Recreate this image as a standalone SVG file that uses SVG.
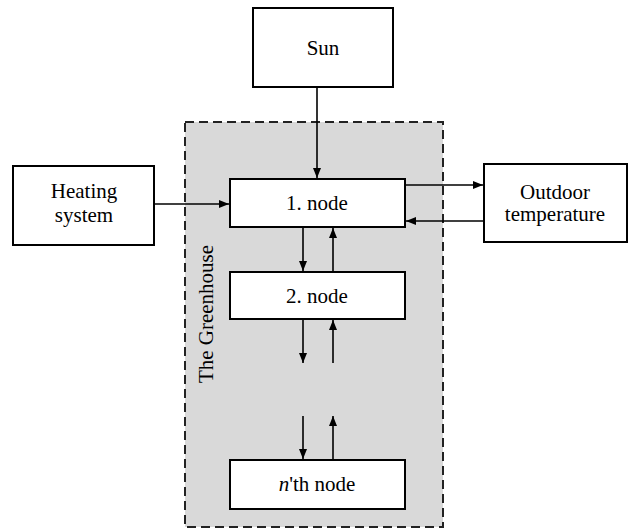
<svg xmlns="http://www.w3.org/2000/svg" width="633" height="531" viewBox="0 0 633 531">
<defs>
<style>
.box{fill:#fff;stroke:#000;stroke-width:2}
.t{font-family:"Liberation Serif","Times New Roman",serif;font-size:21px;fill:#000;text-anchor:middle}
.c{stroke:#000;stroke-width:1.6;fill:none;marker-end:url(#ah)}
</style>
<marker id="ah" viewBox="0 0 10 8" refX="10" refY="4" markerWidth="10" markerHeight="8" markerUnits="userSpaceOnUse" orient="auto">
<path d="M0,0 L10,4 L0,8 Z" fill="#000"/>
</marker>
</defs>
<rect width="633" height="531" fill="#fff"/>
<g id="greenhouse">
<rect x="185" y="122" width="258" height="405" fill="#d9d9d9" stroke="#222" stroke-width="2" stroke-dasharray="9,5"/>
<text class="t" transform="translate(213,314) rotate(-90)">The Greenhouse</text>
</g>
<g id="sun"><rect class="box" x="253" y="8" width="140" height="79"/><text class="t" x="323" y="55">Sun</text></g>
<g id="heating"><rect class="box" x="13" y="166" width="141" height="79"/><text class="t" x="84" y="198">Heating</text><text class="t" x="84" y="222">system</text></g>
<g id="outdoor"><rect class="box" x="484" y="164" width="143" height="78"/><text class="t" x="555" y="199">Outdoor</text><text class="t" x="555" y="221">temperature</text></g>
<g id="node1"><rect class="box" x="230" y="179" width="175" height="48"/><text class="t" x="317" y="210">1. node</text></g>
<g id="node2"><rect class="box" x="230" y="272" width="175" height="47"/><text class="t" x="317" y="303">2. node</text></g>
<g id="noden"><rect class="box" x="230" y="460" width="175" height="49"/><text class="t" x="317" y="491"><tspan font-style="italic">n</tspan>'th node</text></g>
<g id="connectors">
<line class="c" x1="317" y1="87" x2="317" y2="178"/>
<line class="c" x1="154" y1="204" x2="229" y2="204"/>
<line class="c" x1="405" y1="185" x2="483" y2="185"/>
<line class="c" x1="484" y1="221" x2="406" y2="221"/>
<line class="c" x1="303" y1="227" x2="303" y2="271"/>
<line class="c" x1="333" y1="272" x2="333" y2="228"/>
<line class="c" x1="303" y1="319" x2="303" y2="363"/>
<line class="c" x1="333" y1="363" x2="333" y2="320"/>
<line class="c" x1="303" y1="416" x2="303" y2="459"/>
<line class="c" x1="333" y1="460" x2="333" y2="416"/>
</g>
</svg>
